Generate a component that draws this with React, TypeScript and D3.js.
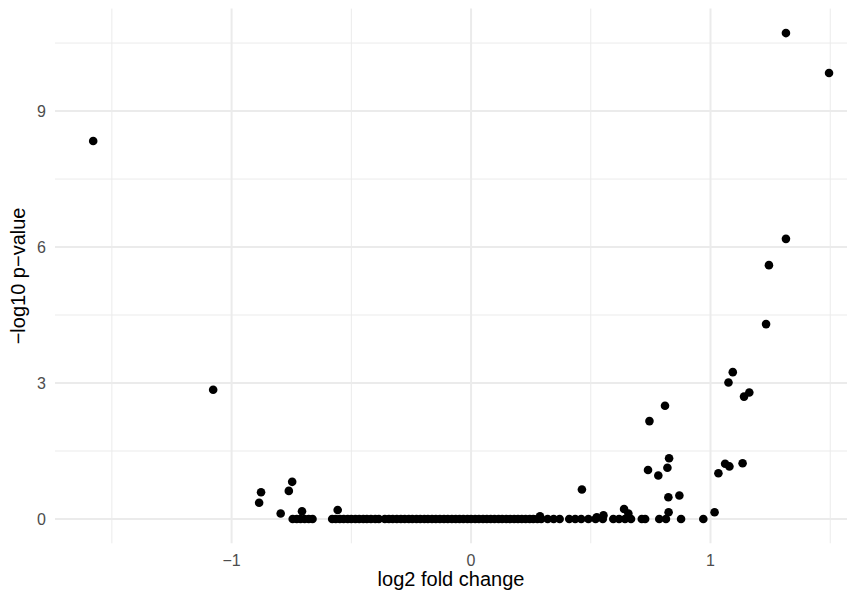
import React, { useRef, useEffect } from 'react';
import * as d3 from 'd3';

// genes with a visible p-value
const raisedFC = [
  -1.578, -1.077, 1.315, 1.495, 1.315, 1.244, 1.232, 1.093, 1.075, 1.162,
  1.14, 0.81, 0.745, 0.827, 0.739, 0.782, 0.82, 1.033, 1.061, 1.079,
  1.134, 0.824, 0.87, 0.825, 1.017, 0.463, 0.639, 0.657, 0.553, 0.525,
  0.288, -0.877, -0.885, -0.747, -0.761, -0.795, -0.706, -0.557,
];
const raisedP = [
  8.34, 2.85, 10.72, 9.84, 6.18, 5.6, 4.3, 3.24, 3.01, 2.79,
  2.7, 2.5, 2.16, 1.34, 1.08, 0.96, 1.13, 1.01, 1.22, 1.16,
  1.23, 0.48, 0.52, 0.15, 0.15, 0.65, 0.22, 0.12, 0.08, 0.04,
  0.06, 0.59, 0.36, 0.82, 0.62, 0.12, 0.17, 0.2,
];

// genes sitting on p = 1
const flatFC = [
  -0.745, -0.728, -0.712, -0.695, -0.678, -0.662,
  -0.58, -0.565, -0.548, -0.532, -0.515, -0.5, -0.483, -0.467, -0.45, -0.435,
  -0.418, -0.4, -0.385, -0.36, -0.343, -0.327, -0.31, -0.293, -0.277, -0.26,
  -0.245, -0.228, -0.212, -0.195, -0.18, -0.163, -0.147, -0.13, -0.113, -0.097,
  -0.08, -0.064, -0.048, -0.032, -0.015, 0.0, 0.017, 0.033, 0.05, 0.066,
  0.082, 0.098, 0.115, 0.13, 0.147, 0.163, 0.18, 0.196, 0.212, 0.228,
  0.245, 0.26, 0.277, 0.293, 0.32, 0.345, 0.37, 0.41, 0.435, 0.46,
  0.49, 0.52, 0.55, 0.594, 0.618, 0.643, 0.668, 0.713, 0.727, 0.786,
  0.814, 0.877, 0.97,
];

const xTicks = [-1, 0, 1];
const xMinor = [-1.5, -0.5, 0.5, 1.5];
const yTicks = [0, 3, 6, 9];
const yMinor = [1.5, 4.5, 7.5, 10.5];

const W = 857;
const H = 596;
const panel = { left: 55, right: 847, top: 8.6, bottom: 543.3 };

const Chart = () => {
  const svgRef = useRef(null);

  useEffect(() => {
    const svg = d3.select(svgRef.current);
    svg.selectAll('*').remove();
    svg.attr('width', W).attr('height', H);

    const points = raisedFC
      .map((fc, i) => ({ fc, p: raisedP[i] }))
      .concat(flatFC.map((fc) => ({ fc, p: 0 })));

    const x = d3.scaleLinear().domain([-1.7375, 1.57]).range([panel.left, panel.right]);
    const y = d3.scaleLinear().domain([-0.536, 11.26]).range([panel.bottom, panel.top]);

    const grid = svg.append('g');
    // minor grid first
    grid.selectAll('.ymin').data(yMinor).enter().append('line')
      .attr('x1', panel.left).attr('x2', panel.right)
      .attr('y1', (d) => y(d)).attr('y2', (d) => y(d))
      .attr('stroke', '#EBEBEB').attr('stroke-width', 1);
    grid.selectAll('.xmin').data(xMinor).enter().append('line')
      .attr('y1', panel.top).attr('y2', panel.bottom)
      .attr('x1', (d) => x(d)).attr('x2', (d) => x(d))
      .attr('stroke', '#EBEBEB').attr('stroke-width', 1);
    grid.selectAll('.ymaj').data(yTicks).enter().append('line')
      .attr('x1', panel.left).attr('x2', panel.right)
      .attr('y1', (d) => y(d)).attr('y2', (d) => y(d))
      .attr('stroke', '#EBEBEB').attr('stroke-width', 2);
    grid.selectAll('.xmaj').data(xTicks).enter().append('line')
      .attr('y1', panel.top).attr('y2', panel.bottom)
      .attr('x1', (d) => x(d)).attr('x2', (d) => x(d))
      .attr('stroke', '#EBEBEB').attr('stroke-width', 2);

    svg.append('g').selectAll('circle').data(points).enter().append('circle')
      .attr('cx', (d) => x(d.fc))
      .attr('cy', (d) => y(d.p))
      .attr('r', 4.3)
      .attr('fill', '#000');

    const font = '"Liberation Sans", Arial, sans-serif';
    const fmt = (d) => (d < 0 ? '\u2212' + Math.abs(d) : String(d));

    svg.append('g').selectAll('text').data(xTicks).enter().append('text')
      .attr('x', (d) => x(d)).attr('y', 566)
      .attr('text-anchor', 'middle')
      .attr('font-family', font).attr('font-size', 16)
      .attr('fill', '#4D4D4D')
      .text(fmt);

    svg.append('g').selectAll('text').data(yTicks).enter().append('text')
      .attr('x', 46).attr('y', (d) => y(d)).attr('dy', '0.36em')
      .attr('text-anchor', 'end')
      .attr('font-family', font).attr('font-size', 16)
      .attr('fill', '#4D4D4D')
      .text(fmt);

    svg.append('text')
      .attr('x', (panel.left + panel.right) / 2).attr('y', 586)
      .attr('text-anchor', 'middle')
      .attr('font-family', font).attr('font-size', 20)
      .attr('fill', '#000')
      .text('log2 fold change');

    svg.append('text')
      .attr('transform', `translate(25, ${(panel.top + panel.bottom) / 2}) rotate(-90)`)
      .attr('text-anchor', 'middle')
      .attr('font-family', font).attr('font-size', 20)
      .attr('fill', '#000')
      .text('\u2212log10 p\u2212value');
  }, []);

  return (
    <div style={{ position: 'fixed', top: 0, left: 0, background: '#fff' }}>
      <svg ref={svgRef} style={{ display: 'block' }}></svg>
    </div>
  );
};

export default function App() {
  return <Chart />;
}
